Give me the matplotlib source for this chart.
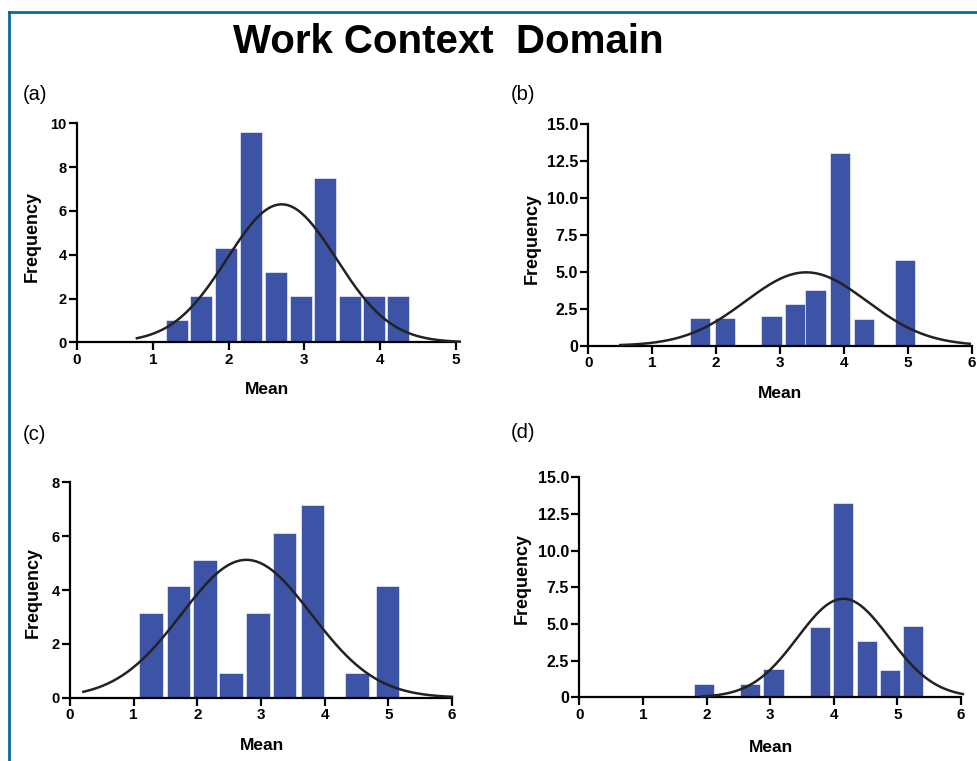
import numpy as np
import matplotlib
matplotlib.use("Agg")
import matplotlib.pyplot as plt
from matplotlib.lines import Line2D

plt.rcParams["font.family"] = ["Liberation Sans", "DejaVu Sans"]

# histogram bins (centre of each bar) and counts for the four domains
a_bins = [1.32, 1.64, 1.97, 2.30, 2.62, 2.95, 3.27, 3.60, 3.92, 4.24]
a_freq = [1.0, 2.1, 4.3, 9.6, 3.2, 2.1, 7.5, 2.1, 2.1, 2.1]
b_bins = [1.745, 2.135, 2.87, 3.235, 3.555, 3.935, 4.315, 4.955]
b_freq = [1.9, 1.9, 2.0, 2.85, 3.8, 13.05, 1.8, 5.8]
c_bins = [1.275, 1.705, 2.12, 2.525, 2.95, 3.37, 3.81, 4.51, 4.985]
c_freq = [3.15, 4.15, 5.1, 0.9, 3.15, 6.1, 7.15, 0.9, 4.15]
d_bins = [1.96, 2.68, 3.055, 3.785, 4.145, 4.52, 4.885, 5.25]
d_freq = [0.9, 0.9, 1.9, 4.8, 13.25, 3.85, 1.85, 4.85]

# gaussian fits: (mean, sd, peak height, x start, x end)
a_fit = (2.70, 0.72, 6.3, 0.79, 5.05)
b_fit = (3.41, 0.95, 4.97, 0.50, 5.97)
c_fit = (2.77, 1.02, 5.12, 0.21, 6.0)
d_fit = (4.15, 0.72, 6.72, 1.92, 6.03)

W, H = 977, 761
fig = plt.figure(figsize=(W / 100, H / 100), dpi=100)

bar_color = "#3c53a6"


def px(x0, y0, x1, y1):
    # pixel box (left, top, right, bottom) -> figure fraction rect
    return [x0 / W, 1 - y1 / H, (x1 - x0) / W, (y1 - y0) / H]


panels = [
    ("(a)", a_bins, a_freq, 0.29, a_fit, px(77, 123.3, 456, 342.3), (0, 5), (0, 10),
     [0, 2, 4, 6, 8, 10], ["0", "2", "4", "6", "8", "10"], 10.5,
     (23, 94), (32, 236), (267, 390)),
    ("(b)", b_bins, b_freq, 0.32, b_fit, px(588.3, 124.3, 971.7, 345.7), (0, 6), (0, 15),
     [0, 2.5, 5, 7.5, 10, 12.5, 15], ["0", "2.5", "5.0", "7.5", "10.0", "12.5", "15.0"], 11.5,
     (511, 95), (532, 238), (780, 394)),
    ("(c)", c_bins, c_freq, 0.37, c_fit, px(70, 482.3, 452, 697.7), (0, 6), (0, 8),
     [0, 2, 4, 6, 8], ["0", "2", "4", "6", "8"], 10.5,
     (23, 435), (33, 592), (262, 746)),
    ("(d)", d_bins, d_freq, 0.32, d_fit, px(579.3, 477.3, 961, 697.3), (0, 6), (0, 15),
     [0, 2.5, 5, 7.5, 10, 12.5, 15], ["0", "2.5", "5.0", "7.5", "10.0", "12.5", "15.0"], 11.5,
     (511, 433), (522, 579), (771, 747)),
]

for (tag, bins, freq, width, fit, rect, xlim, ylim, yt, ytl, tsize,
     tag_pos, ylab_pos, xlab_pos) in panels:
    ax = fig.add_axes(rect)
    ax.bar(bins, freq, width=width, color=bar_color, edgecolor="white",
           linewidth=0.4, zorder=2)
    mu, sd, peak, x_lo, x_hi = fit
    xs = np.linspace(x_lo, x_hi, 300)
    ax.plot(xs, peak * np.exp(-(xs - mu) ** 2 / (2 * sd ** 2)),
            color="#222222", lw=1.8, zorder=3, clip_on=False)
    ax.set_xlim(*xlim)
    ax.set_ylim(*ylim)
    ax.set_xticks(range(xlim[0], xlim[1] + 1))
    ax.set_yticks(yt)
    ax.set_yticklabels(ytl)
    for s in ["top", "right"]:
        ax.spines[s].set_visible(False)
    for s in ["left", "bottom"]:
        ax.spines[s].set_linewidth(1.6)
    ax.tick_params(width=1.6, length=5.5, labelsize=tsize, pad=2)
    ax.tick_params(axis="x", labelsize=11)
    for lab in ax.get_xticklabels() + ax.get_yticklabels():
        lab.set_fontweight("bold")
    ax.set_xlabel("Mean", fontsize=12.5, fontweight="bold")
    ax.set_ylabel("Frequency", fontsize=13, fontweight="bold")
    ax.xaxis.set_label_coords(xlab_pos[0] / W, 1 - xlab_pos[1] / H, transform=fig.transFigure)
    ax.yaxis.set_label_coords(ylab_pos[0] / W, 1 - ylab_pos[1] / H, transform=fig.transFigure)
    ax.xaxis.label.set_va("center")
    ax.yaxis.label.set_va("center")
    fig.text(tag_pos[0] / W, 1 - tag_pos[1] / H, tag, fontsize=14.5, va="center", ha="left")

fig.text(448 / W, 1 - 42 / H, "Work Context  Domain", fontsize=29, fontweight="bold",
         ha="center", va="center")

# outer frame: top and left edges only
frame = "#0a6a96"
fig.add_artist(Line2D([9 / W, 1], [1 - 12 / H, 1 - 12 / H], color=frame, lw=2,
                      transform=fig.transFigure))
fig.add_artist(Line2D([9 / W, 9 / W], [0, 1 - 12 / H], color=frame, lw=2,
                      transform=fig.transFigure))

fig.savefig("out.png", dpi=100)
